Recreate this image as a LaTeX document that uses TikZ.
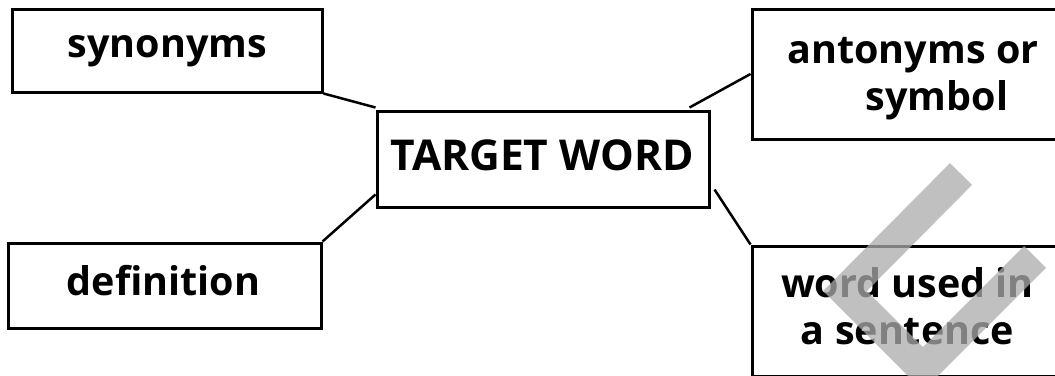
\documentclass[tikz,border=0pt]{standalone}
\usepackage{fontspec}
\setmainfont{Open Sans}
\begin{document}
\begin{tikzpicture}[x=1pt,y=-1pt,
  box/.style={draw=black,line width=3pt,rectangle,inner sep=0pt},
  lbl/.style={font=\bfseries\fontsize{39.5}{47}\selectfont,anchor=base,inner sep=0pt},
  biglbl/.style={font=\bfseries\fontsize{42.5}{47}\selectfont,anchor=base,inner sep=0pt},
  conn/.style={draw=black,line width=2.5pt},
  checkstroke/.style={draw=black!33,line width=31pt,opacity=0.75,miter limit=10,line cap=butt,line join=miter}]
\useasboundingbox (0,0) rectangle (1055,375);
\begin{scope}
\clip (0,0) rectangle (1055,375);
\fill[white] (0,0) rectangle (1055,375);
% boxes
\node[box,minimum width=310pt,minimum height=83pt] (syn) at (167,50.5) {};
\node[box,minimum width=313pt,minimum height=85pt] (def) at (164.5,285.5) {};
\node[box,minimum width=332pt,minimum height=96pt] (tw) at (543,159) {};
\node[box,minimum width=322pt,minimum height=130pt] (ant) at (913,74) {};
\node[box,minimum width=311pt,minimum height=130pt] (wrd) at (907.5,311) {};
% texts
\node[lbl] (synt) at (167.5,57) {synonyms};
\node[lbl] (deft) at (163.5,295) {definition};
\node[biglbl] (twt) at (542,170) {TARGET WORD};
\node[lbl] (antt1) at (913,63) {antonyms or};
\node[lbl] (antt2) at (937,110) {symbol};
\node[lbl] (wrdt1) at (907.5,297) {word used in};
\node[lbl] (wrdt2) at (907.5,344) {a sentence};
% connectors
\draw[conn] (syn.south east) -- ([yshift=2pt]tw.north west);
\draw[conn] (ant.west) -- ([xshift=-21pt,yshift=2pt]tw.north east);
\draw[conn] (def.north east) -- ([yshift=14pt]tw.south west);
\draw[conn] ([xshift=4pt,yshift=19pt]tw.south east) -- (wrd.north west);
% check mark overlay
\coordinate (m1) at (961,174);
\coordinate (m2) at (845,291);
\coordinate (m3) at (923,369);
\coordinate (m4) at (1035,257);
\draw[checkstroke] (m1) -- (m2) -- (m3) -- (m4);
\end{scope}
\end{tikzpicture}
\end{document}
